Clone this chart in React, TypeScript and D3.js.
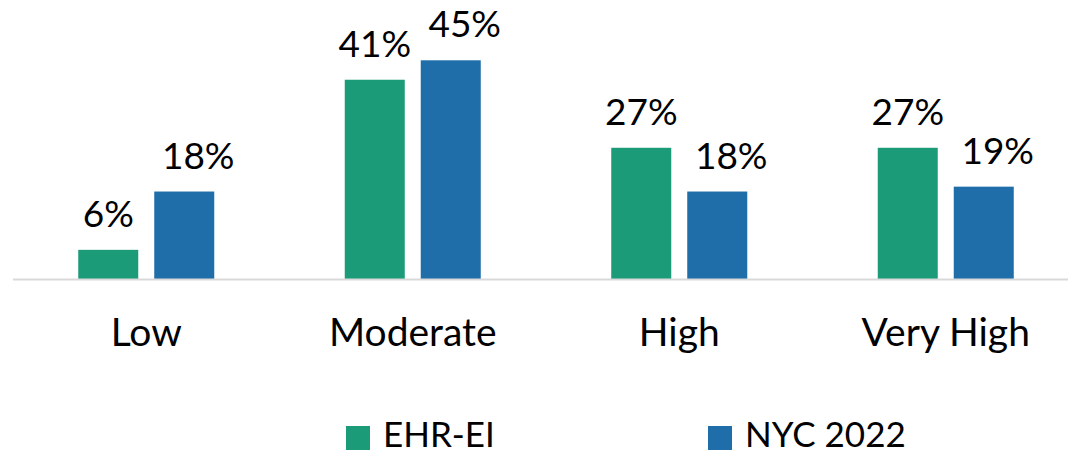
import * as d3 from 'd3';
import React from 'react';
import { useEffect, useRef } from 'react';

const categories = ['Low', 'Moderate', 'High', 'Very High'];
const seriesNames = ['EHR-EI', 'NYC 2022'];
const ehrValues = [6, 41, 27, 27];
const nycValues = [18, 45, 18, 19];
const seriesColors = ['#1b9b78', '#1f6ea9'];

const width = 1068;
const height = 455;
const fontFamily = 'Lato, "Open Sans", sans-serif';

const App = () => {
    const svgRef = useRef<SVGSVGElement>(null);

    useEffect(() => {
        const svg = d3.select(svgRef.current);
        svg.selectAll('*').remove();

        const baseline = 279;
        const groupScale = d3.scaleBand<string>()
            .domain(categories)
            .range([13, 1079]);
        const seriesScale = d3.scaleBand<string>()
            .domain(seriesNames)
            .range([0, 136])
            .paddingInner(16 / 76);
        const yScale = d3.scaleLinear()
            .domain([0, 50])
            .range([baseline, baseline - 243]);

        const rows = categories.map((c, i) => ({ category: c, values: [ehrValues[i], nycValues[i]] }));
        const groupOffset = (groupScale.bandwidth() - 136) / 2;

        const groups = svg.append('g')
            .selectAll('g')
            .data(rows)
            .join('g')
            .attr('transform', d => 'translate(' + ((groupScale(d.category) as number) + groupOffset) + ', 0)');

        groups.selectAll('rect')
            .data(d => d.values.map((v, j) => ({ name: seriesNames[j], value: v, color: seriesColors[j] })))
            .join('rect')
            .attr('x', d => seriesScale(d.name) as number)
            .attr('y', d => yScale(d.value))
            .attr('width', seriesScale.bandwidth())
            .attr('height', d => baseline - yScale(d.value))
            .attr('fill', d => d.color);

        // value labels; the second series' labels sit a little to the right, as in the original
        groups.selectAll('text')
            .data(d => d.values.map((v, j) => ({ name: seriesNames[j], value: v, shift: j === 1 ? 14 : 0 })))
            .join('text')
            .attr('x', d => (seriesScale(d.name) as number) + seriesScale.bandwidth() / 2 + d.shift)
            .attr('y', d => yScale(d.value) - 23)
            .attr('text-anchor', 'middle')
            .attr('font-family', fontFamily)
            .attr('font-size', 37)
            .attr('fill', '#000')
            .text(d => d.value + '%');

        // baseline axis
        svg.append('line')
            .attr('x1', 13)
            .attr('x2', width)
            .attr('y1', baseline + 0.5)
            .attr('y2', baseline + 0.5)
            .attr('stroke', '#d9d9d9')
            .attr('stroke-width', 2);

        const bottomAxis = d3.axisBottom(groupScale).tickSize(0).tickPadding(0);
        const axisG = svg.append('g').call(bottomAxis);
        axisG.select('.domain').remove();
        axisG.selectAll('text')
            .attr('y', 346)
            .attr('dy', null)
            .attr('font-family', fontFamily)
            .attr('font-size', 39)
            .attr('fill', '#000');

        // legend
        const legendX = [346, 708];
        const legend = svg.append('g')
            .selectAll('g')
            .data(seriesNames)
            .join('g')
            .attr('transform', (d, i) => 'translate(' + legendX[i] + ', 426)');
        legend.append('rect')
            .attr('width', 24)
            .attr('height', 24)
            .attr('fill', (d, i) => seriesColors[i]);
        legend.append('text')
            .attr('x', 37)
            .attr('y', 21)
            .attr('font-family', fontFamily)
            .attr('font-size', 35)
            .attr('fill', '#000')
            .text(d => d);
    }, []);

    return (
        <svg ref={svgRef} width={width} height={height} style={{ display: 'block', position: 'absolute', left: 0, top: 0, background: '#fff' }} />
    );
};

export default App;
